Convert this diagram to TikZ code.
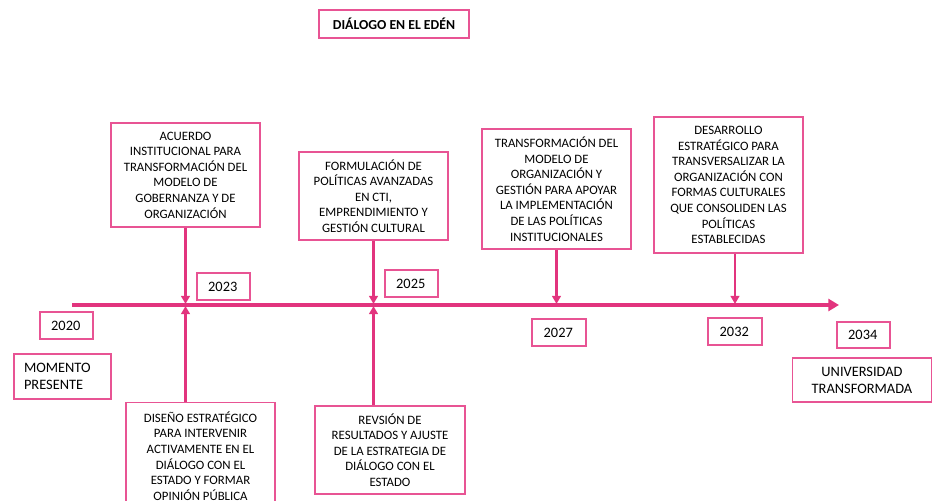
\documentclass[tikz,border=0pt]{standalone}
\usepackage{fontspec}
\setmainfont{Carlito}
\usetikzlibrary{arrows.meta}
\definecolor{boxpink}{RGB}{232,84,148}
\definecolor{linepink}{RGB}{226,52,126}
\begin{document}
\begin{tikzpicture}[x=0.75pt,y=-0.75pt,
  box/.style={draw=boxpink,line width=0.8pt,inner sep=1pt,align=center,
    font=\fontsize{9.6}{11.7}\selectfont,text=black},
  labelfont/.style={font=\fontsize{10.8}{12.6}\selectfont},
  bigbox/.style={box,minimum width=111.75pt},
  yearbox/.style={box,labelfont,minimum width=39.75pt,minimum height=20.25pt,text width=23pt,align=left},
  conn/.style={draw=linepink,line width=2pt,-{Triangle[length=6pt,width=6.5pt]},shorten >=0.8pt},
  axisline/.style={draw=linepink,line width=2.8pt,-{Triangle[length=8pt,width=9pt]}}]
\useasboundingbox (0,0) rectangle (932,500);

% title
\node[box,font=\bfseries\fontsize{10.3}{12}\selectfont,minimum width=112.5pt,minimum height=21pt] (title) at (394,24) {DIÁLOGO EN EL EDÉN};

% axis
\coordinate (axs) at (72,305);
\coordinate (axe) at (839,305);
\draw[axisline] (axs) -- (axe);

% upper boxes
\node[bigbox,minimum height=78pt] (acuerdo) at (185.5,175) {ACUERDO\\INSTITUCIONAL  PARA\\TRANSFORMACIÓN DEL\\MODELO DE\\GOBERNANZA Y DE\\ORGANIZACIÓN};
\node[bigbox,minimum height=66pt] (formul) at (373.5,196) {FORMULACIÓN DE\\POLÍTICAS AVANZADAS\\EN CTI,\\EMPRENDIMIENTO Y\\GESTIÓN CULTURAL};
\node[bigbox,minimum height=90pt] (transf) at (556.5,189) {TRANSFORMACIÓN DEL\\MODELO  DE\\ORGANIZACIÓN Y\\GESTIÓN PARA APOYAR\\LA IMPLEMENTACIÓN\\DE LAS POLÍTICAS\\INSTITUCIONALES};
\node[bigbox,minimum height=102pt] (desarr) at (728.5,185) {DESARROLLO\\ESTRATÉGICO PARA\\TRANSVERSALIZAR LA\\ORGANIZACIÓN CON\\FORMAS CULTURALES\\QUE CONSOLIDEN LAS\\POLÍTICAS\\ESTABLECIDAS};

% lower boxes
\node[bigbox,minimum height=80.25pt] (diseno) at (200.5,456) {DISEÑO ESTRATÉGICO\\PARA INTERVENIR\\ACTIVAMENTE  EN EL\\DIÁLOGO CON EL\\ESTADO Y FORMAR\\OPINIÓN PÚBLICA};
\node[box,minimum width=112.5pt,minimum height=66pt] (revision) at (390,450) {REVSIÓN DE\\RESULTADOS  Y AJUSTE\\DE LA ESTRATEGIA DE\\DIÁLOGO CON EL\\ESTADO};

% years
\node[yearbox] (y2020) at (66.5,325.5) {2020};
\node[yearbox] (y2023) at (223.5,286.5) {2023};
\node[yearbox] (y2025) at (411.5,283.5) {2025};
\node[yearbox,minimum width=40.5pt] (y2027) at (559,332.5) {2027};
\node[yearbox,minimum width=40.5pt] (y2032) at (735,331.5) {2032};
\node[yearbox,minimum height=19.5pt] (y2034) at (863.5,335) {2034};

% end labels
\node[box,labelfont,minimum width=72.75pt,minimum height=33.75pt,text width=57.75pt,align=left] (momento) at (62.5,376.5) {MOMENTO\\PRESENTE};
\node[box,labelfont,minimum width=104.25pt,minimum height=33pt] (univ) at (862,380) {UNIVERSIDAD\\TRANSFORMADA};

% connectors
\draw[conn] (acuerdo.south) -- (acuerdo.south |- axs);
\draw[conn] (formul.south) -- (formul.south |- axs);
\draw[conn] (transf.south) -- (transf.south |- axs);
\draw[conn] (desarr.south -| y2032.north) -- (y2032.north |- axs);
\draw[conn] (diseno.north -| acuerdo.south) -- (acuerdo.south |- axs);
\draw[conn] (revision.north -| formul.south) -- (formul.south |- axs);
\end{tikzpicture}
\end{document}
